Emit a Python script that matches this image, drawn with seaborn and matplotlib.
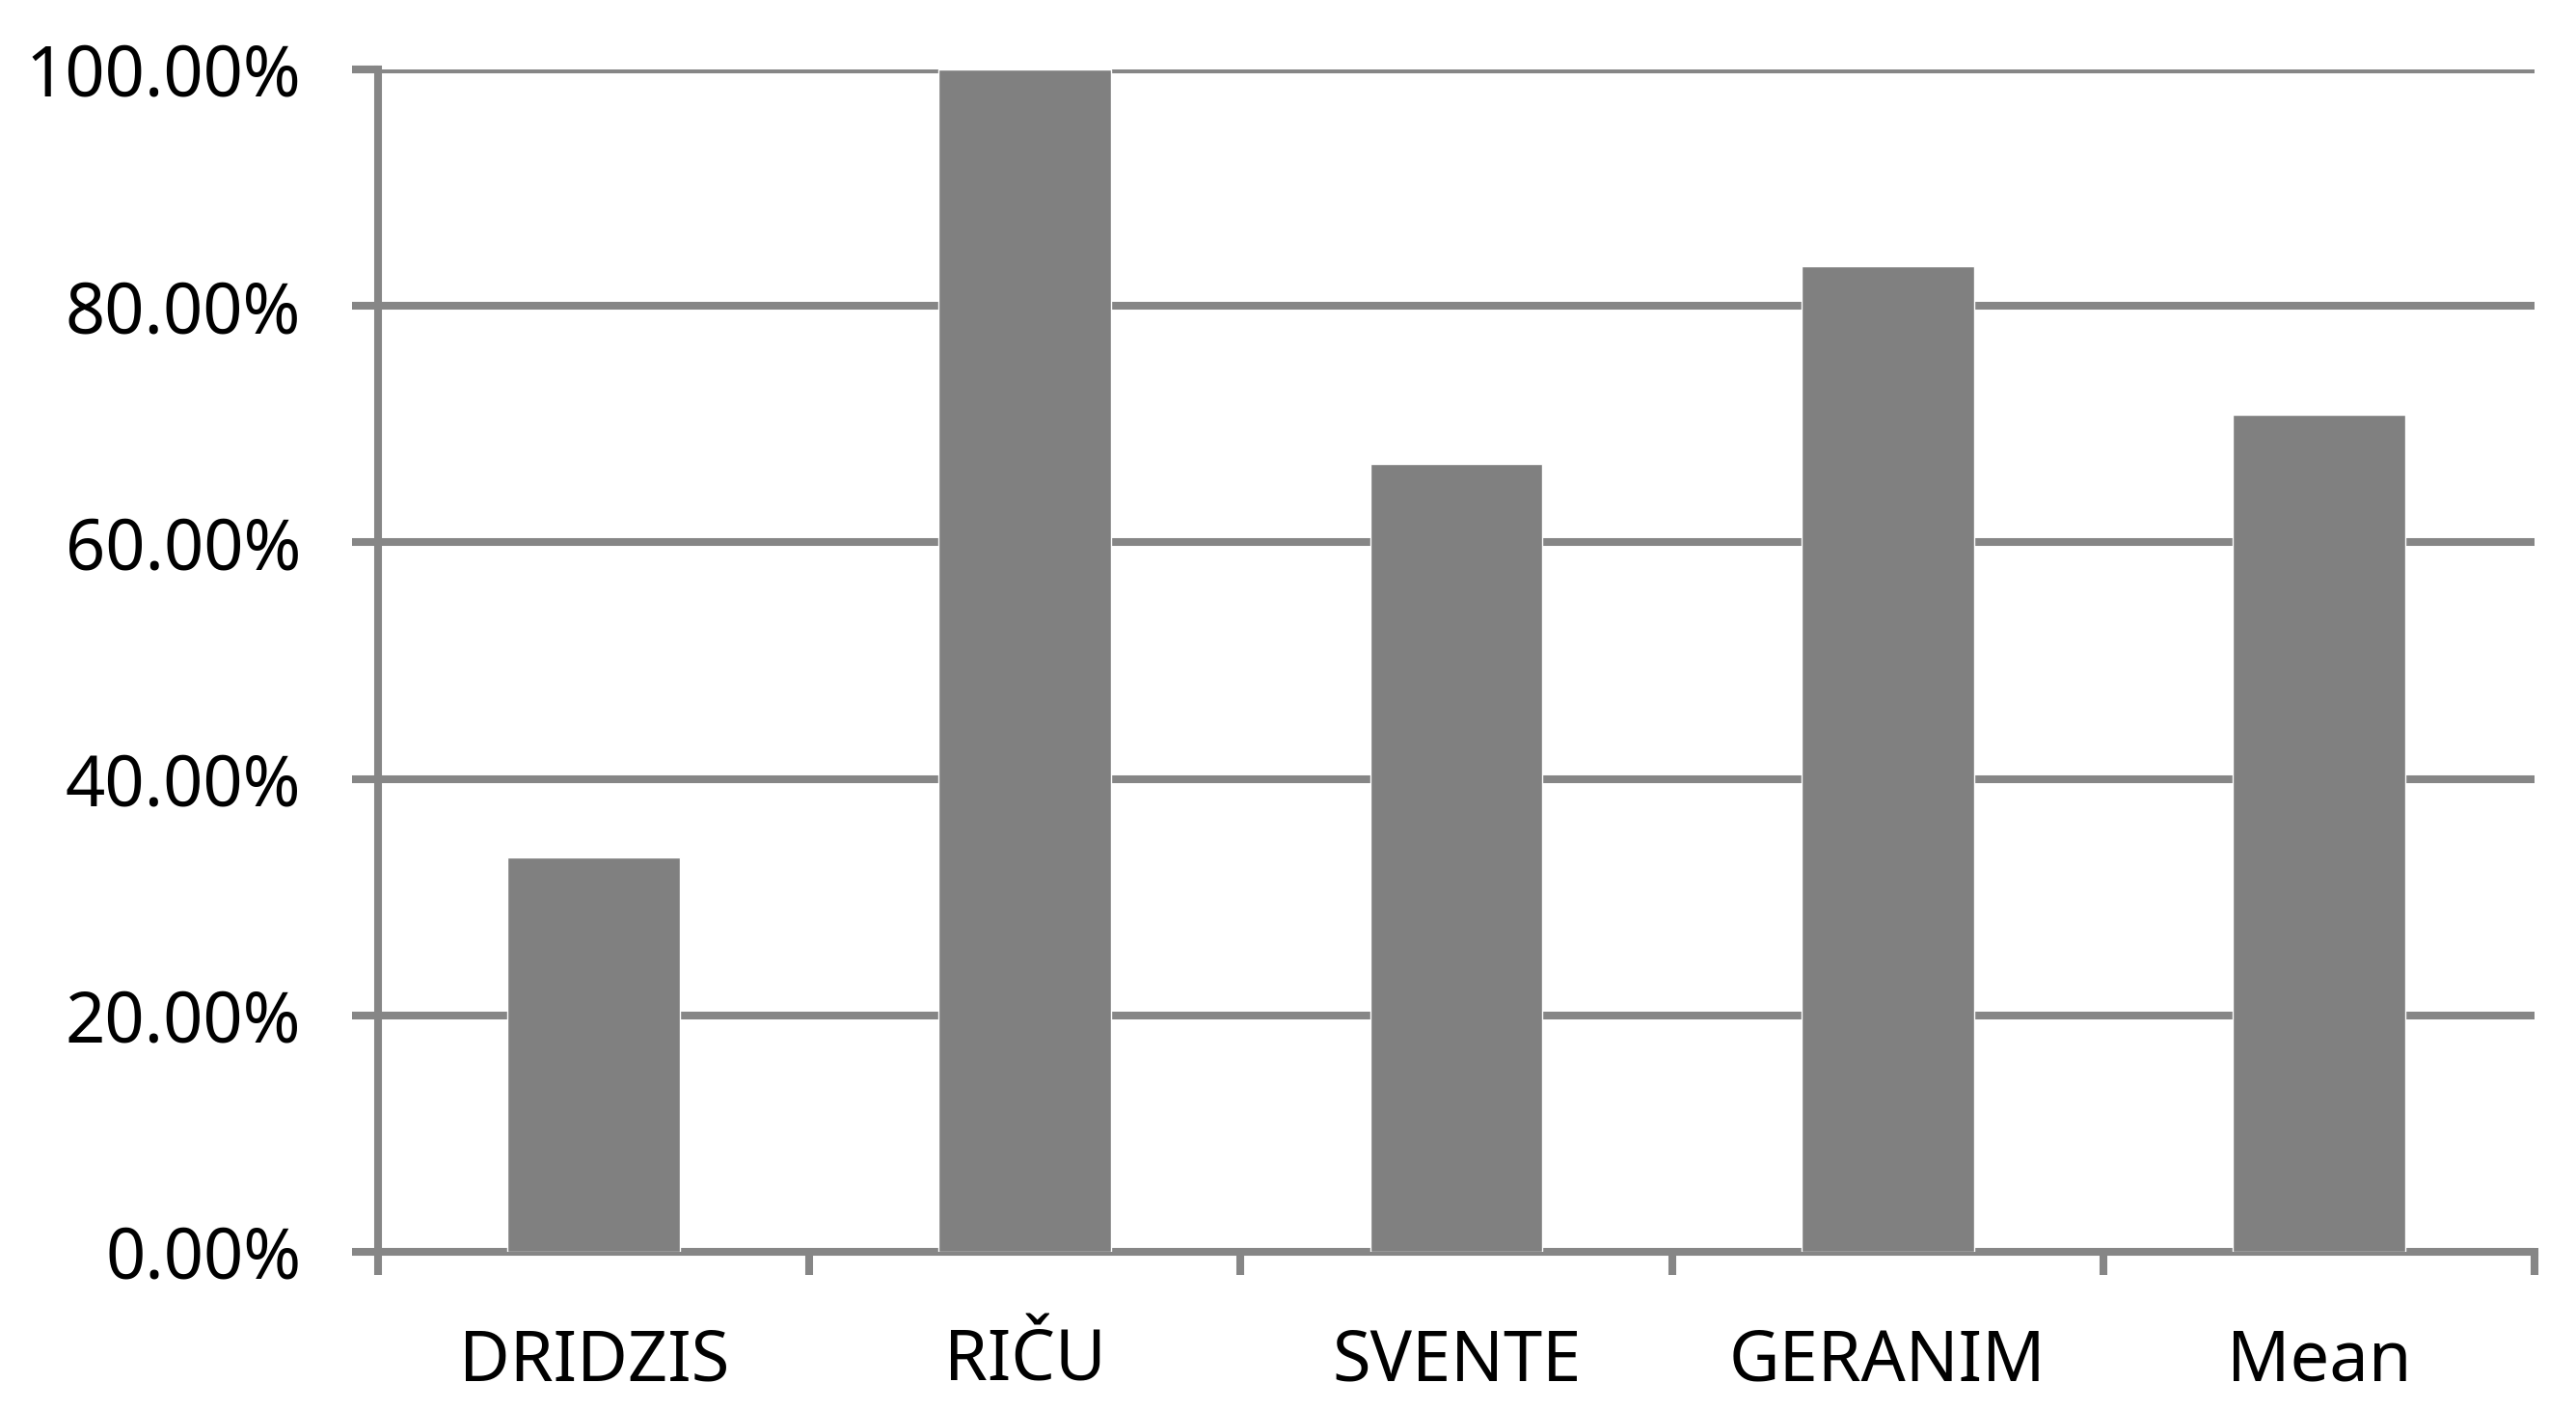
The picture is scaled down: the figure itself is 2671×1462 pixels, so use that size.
import numpy as np
import pandas as pd
import matplotlib
matplotlib.use("Agg")
import matplotlib.pyplot as plt
import seaborn as sns
from matplotlib.ticker import FuncFormatter, FixedLocator

categories = ["DRIDZIS", "RIČU", "SVENTE", "GERANIM", "Mean"]
values = [33.33, 100.0, 66.67, 83.33, 70.83]

df = pd.DataFrame({"category": categories, "value": values})

sns.set_style("white")
plt.rcParams["font.family"] = ["Noto Sans", "DejaVu Sans"]

line_col = "#868686"
bar_col = "#808080"
lw = 5.8  # ~8 px at dpi 100

fig = plt.figure(figsize=(26.71, 14.62), dpi=100)
ax = fig.add_axes([0.1468, 0.1122, 0.9839 - 0.1468, 0.9508 - 0.1122])

sns.barplot(data=df, x="category", y="value", color=bar_col, width=0.4,
            saturation=1, ax=ax, zorder=3)

ax.set_xlim(-0.5, len(categories) - 0.5)
ax.set_ylim(0, 100)
ax.set_yticks(np.arange(0, 101, 20))
ax.yaxis.set_major_formatter(FuncFormatter(lambda v, p: f"{v:.2f}%"))
ax.yaxis.grid(True, color=line_col, linewidth=lw, zorder=0)
ax.set_axisbelow(True)

# ticks on the category boundaries
ax.xaxis.set_minor_locator(FixedLocator(np.arange(-0.5, len(categories), 1.0)))
ax.tick_params(axis="x", which="minor", length=17, width=lw, color=line_col, direction="out")
ax.tick_params(axis="x", which="major", length=0, pad=56, labelsize=52, labelcolor="black")
ax.tick_params(axis="y", which="major", length=19.5, width=lw, color=line_col,
               direction="out", pad=38, labelsize=52, labelcolor="black")
ax.yaxis.set_ticks_position("left")
ax.xaxis.set_ticks_position("bottom")

for s in ["top", "right"]:
    ax.spines[s].set_visible(False)
for s in ["left", "bottom"]:
    ax.spines[s].set_color(line_col)
    ax.spines[s].set_linewidth(lw)

ax.set_xlabel("")
ax.set_ylabel("")

fig.savefig("out.png", dpi=100, facecolor="white")
